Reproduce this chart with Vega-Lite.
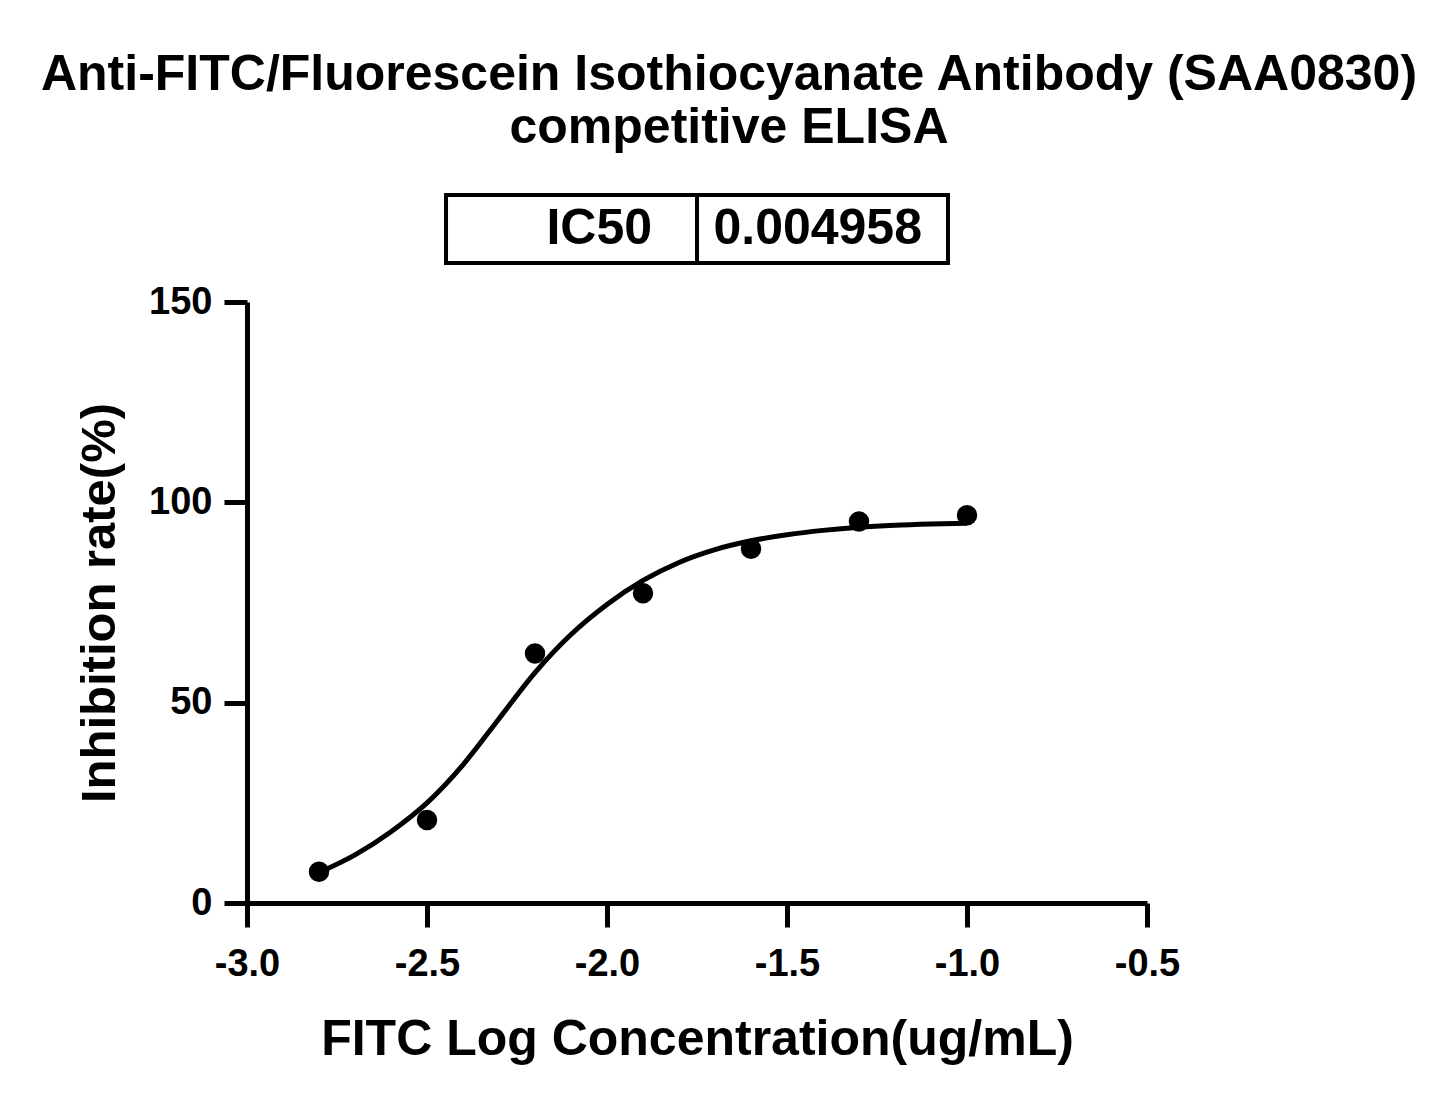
{
  "$schema": "https://vega.github.io/schema/vega-lite/v6.json",
  "background": "white",
  "padding": {"left": 40, "top": 50, "right": 20, "bottom": 20},
  "title": {
    "text": ["Anti-FITC/Fluorescein Isothiocyanate Antibody (SAA0830)", "competitive ELISA"],
    "fontSize": 50,
    "fontWeight": "bold",
    "font": "Liberation Sans",
    "color": "black",
    "lineHeight": 53,
    "anchor": "middle",
    "frame": "group",
    "dx": 32,
    "offset": 40
  },
  "config": {
    "font": "Liberation Sans",
    "view": {"stroke": null},
    "concat": {"spacing": 18}
  },
  "datasets": {
    "ic50": [
      {"cell": "IC50"},
      {"cell": "0.004958"}
    ],
    "points": [
      {"logc": -2.8, "rate": 7.8},
      {"logc": -2.5, "rate": 20.7},
      {"logc": -2.2, "rate": 62.3},
      {"logc": -1.9, "rate": 77.3},
      {"logc": -1.6, "rate": 88.4},
      {"logc": -1.3, "rate": 95.2},
      {"logc": -1.0, "rate": 96.8}
    ],
    "curve": [
      {"logc": -2.8, "rate": 7.6},
      {"logc": -2.7, "rate": 12.0},
      {"logc": -2.6, "rate": 17.8},
      {"logc": -2.5, "rate": 25.0},
      {"logc": -2.4, "rate": 34.5},
      {"logc": -2.3, "rate": 46.0},
      {"logc": -2.2, "rate": 57.5},
      {"logc": -2.1, "rate": 67.0},
      {"logc": -2.0, "rate": 74.5},
      {"logc": -1.9, "rate": 80.5},
      {"logc": -1.8, "rate": 85.0},
      {"logc": -1.7, "rate": 88.2},
      {"logc": -1.6, "rate": 90.4},
      {"logc": -1.5, "rate": 91.9},
      {"logc": -1.4, "rate": 93.0},
      {"logc": -1.3, "rate": 93.8},
      {"logc": -1.2, "rate": 94.3},
      {"logc": -1.1, "rate": 94.6},
      {"logc": -1.0, "rate": 94.8}
    ]
  },
  "vconcat": [
    {
      "width": 900,
      "height": 68,
      "data": {"name": "ic50"},
      "layer": [
        {
          "mark": {"type": "rect", "fill": "white", "stroke": "black", "strokeWidth": 4},
          "encoding": {
            "x": {"field": "cell", "type": "nominal", "sort": null, "axis": null,
                  "scale": {"paddingInner": 0, "paddingOuter": 0.793}}
          }
        },
        {
          "transform": [{"filter": "datum.cell == 'IC50'"}],
          "mark": {"type": "text", "align": "right", "baseline": "middle", "dx": -45, "fontSize": 50, "fontWeight": "bold", "color": "black"},
          "encoding": {
            "x": {"field": "cell", "type": "nominal", "sort": null, "axis": null, "bandPosition": 1},
            "text": {"field": "cell"}
          }
        },
        {
          "transform": [{"filter": "datum.cell != 'IC50'"}],
          "mark": {"type": "text", "align": "right", "baseline": "middle", "dx": -26, "fontSize": 50, "fontWeight": "bold", "color": "black"},
          "encoding": {
            "x": {"field": "cell", "type": "nominal", "sort": null, "axis": null, "bandPosition": 1},
            "text": {"field": "cell"}
          }
        }
      ]
    },
    {
      "width": 900,
      "height": 601,
      "encoding": {
        "x": {
          "field": "logc", "type": "quantitative",
          "scale": {"domain": [-3, -0.5], "nice": false, "zero": false},
          "axis": {
            "title": "FITC Log Concentration(ug/mL)",
            "values": [-3, -2.5, -2, -1.5, -1, -0.5],
            "format": ".1f",
            "labelExpr": "replace(datum.label, '\u2212', '-')",
            "labelFlush": false,
            "labelOverlap": false,
            "labelFontSize": 38,
            "labelFontWeight": "bold",
            "labelColor": "black",
            "labelPadding": 18,
            "tickSize": 24,
            "tickWidth": 5,
            "tickColor": "black",
            "domainWidth": 5,
            "domainColor": "black",
            "grid": false,
            "titleFontSize": 50,
            "titleFontWeight": "bold",
            "titleColor": "black",
            "titlePadding": 31
          }
        },
        "y": {
          "field": "rate", "type": "quantitative",
          "scale": {"domain": [0, 150], "nice": false},
          "axis": {
            "title": "Inhibition rate(%)",
            "values": [0, 50, 100, 150],
            "labelFontSize": 38,
            "labelFontWeight": "bold",
            "labelColor": "black",
            "labelPadding": 12,
            "tickSize": 23,
            "tickWidth": 5,
            "tickColor": "black",
            "domainWidth": 5,
            "domainColor": "black",
            "grid": false,
            "titleFontSize": 49,
            "titleFontWeight": "bold",
            "titleColor": "black",
            "titlePadding": 24
          }
        }
      },
      "layer": [
        {
          "data": {"name": "curve"},
          "mark": {"type": "line", "color": "black", "strokeWidth": 5, "interpolate": "monotone"}
        },
        {
          "data": {"name": "points"},
          "mark": {"type": "point", "shape": "circle", "filled": true, "color": "black", "opacity": 1, "size": 420}
        }
      ]
    }
  ]
}
